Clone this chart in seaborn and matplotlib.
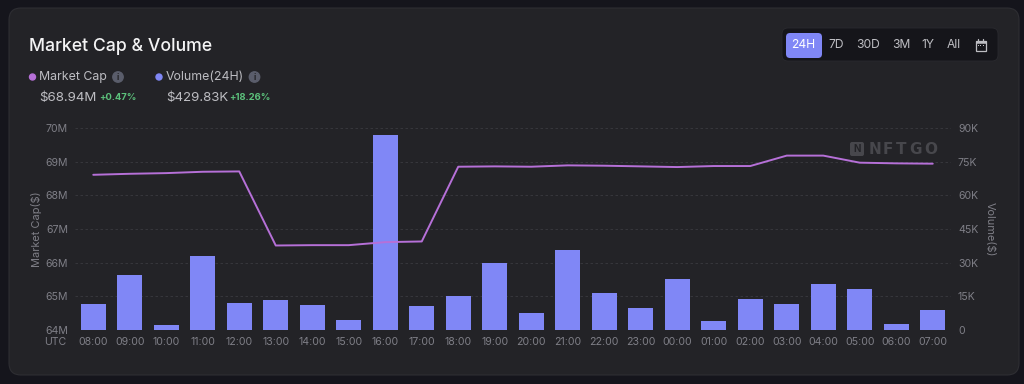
import matplotlib
matplotlib.use("Agg")
import matplotlib.pyplot as plt
from matplotlib.patches import FancyBboxPatch, Rectangle, Circle
import pandas as pd
import seaborn as sns

# Hourly data
hours = ["08:00", "09:00", "10:00", "11:00", "12:00", "13:00", "14:00", "15:00",
         "16:00", "17:00", "18:00", "19:00", "20:00", "21:00", "22:00", "23:00",
         "00:00", "01:00", "02:00", "03:00", "04:00", "05:00", "06:00", "07:00"]
market_cap = [68.61, 68.64, 68.66, 68.70, 68.71, 66.51, 66.52, 66.52,
              66.61, 66.63, 68.85, 68.86, 68.85, 68.89, 68.88, 68.86,
              68.84, 68.87, 68.87, 69.18, 69.18, 68.97, 68.95, 68.94]
volume = [11.6, 24.5, 2.2, 33.0, 12.0, 13.5, 11.0, 4.5,
          87.0, 10.7, 15.0, 30.0, 7.5, 35.6, 16.5, 9.8,
          22.7, 4.0, 13.8, 11.7, 20.5, 18.3, 2.7, 8.9]
cap_ticks = [64, 65, 66, 67, 68, 69, 70]
vol_ticks = [0, 15, 30, 45, 60, 75, 90]
ranges = ["24H", "7D", "30D", "3M", "1Y", "All"]
range_x = [803.5, 836, 868, 901, 928, 954]
mark_letters = ["N", "F", "T", "G", "O"]
mark_x = [875, 888, 901, 916, 931]

W, H = 1024, 384
OUTER = "#15151c"
CARD = "#232327"
BAR = "#8087f6"
LINE = "#b670d8"
MUTED = "#7f7f87"
GRID = "#3a3a40"
LIGHT = "#bdbdc2"
WATERMARK = "#47474c"

sns.set_theme(style="dark")
plt.rcParams["font.family"] = ["Inter", "DejaVu Sans"]

df = pd.DataFrame({"hour": hours, "cap": market_cap, "vol": volume})

fig = plt.figure(figsize=(W / 100, H / 100), dpi=100, facecolor=OUTER)

# Full figure layer in pixel coordinates for the card and header
bg = fig.add_axes([0, 0, 1, 1], zorder=0)
bg.set_xlim(0, W)
bg.set_ylim(H, 0)
bg.axis("off")
bg.add_patch(FancyBboxPatch((9, 8), 1010, 367, boxstyle="round,pad=0,rounding_size=12",
                            fc=CARD, ec="#2e2e33", lw=0.8))

bg.text(29, 46.5, "Market Cap & Volume", color="#f4f4f5", fontsize=12.7, fontweight="medium", va="center")

# Legend blocks
bg.add_patch(Circle((32.5, 77), 3, color=LINE))
bg.text(39, 77, "Market Cap", color=LIGHT, fontsize=8.9, va="center")
bg.add_patch(Circle((118, 77), 5.2, color="#5a5d6b"))
bg.text(118, 77, "i", color=CARD, fontsize=6, fontweight="bold", ha="center", va="center")
bg.text(39, 98, "$68.94M", color=LIGHT, fontsize=9.6, va="center")
bg.text(99.5, 98, "+0.47%", color="#5cc27c", fontsize=6.8, fontweight="bold", va="center")

bg.add_patch(Circle((159, 77), 3, color=BAR))
bg.text(165.5, 77, "Volume(24H)", color=LIGHT, fontsize=8.9, va="center")
bg.add_patch(Circle((254.5, 77), 5.2, color="#5a5d6b"))
bg.text(254.5, 77, "i", color=CARD, fontsize=6, fontweight="bold", ha="center", va="center")
bg.text(166, 98, "$429.83K", color=LIGHT, fontsize=9.6, va="center")
bg.text(229.5, 98, "+18.26%", color="#5cc27c", fontsize=6.8, fontweight="bold", va="center")

# Time range selector
bg.add_patch(FancyBboxPatch((782, 28), 216, 33, boxstyle="round,pad=0,rounding_size=6",
                            fc="#15151a", ec="#2a2a2f", lw=0.6))
bg.add_patch(FancyBboxPatch((786, 33), 36, 25, boxstyle="round,pad=0,rounding_size=4",
                            fc=BAR, ec="none"))
for label, x in zip(ranges, range_x):
    bg.text(x, 45.5, label, color="white" if label == "24H" else LIGHT, fontsize=8.7, ha="center", va="center")

# Calendar icon
bg.add_patch(Rectangle((975.5, 40.5), 10, 10, fc="none", ec=LIGHT, lw=0.9))
bg.add_patch(Rectangle((975.5, 40.5), 10, 2.5, fc=LIGHT, ec=LIGHT, lw=0.4))
for tab in (978, 983):
    bg.plot([tab, tab], [38.8, 41], color=LIGHT, lw=0.9)
for dot in (978, 980.5, 983):
    bg.add_patch(Rectangle((dot - 0.5, 44.5), 1, 1, fc=LIGHT, ec="none"))

# Watermark
bg.add_patch(FancyBboxPatch((850, 142), 14, 14, boxstyle="round,pad=0,rounding_size=2", fc=WATERMARK, ec="none"))
bg.text(857, 149, "N", color=CARD, fontsize=7, fontweight="bold", ha="center", va="center")
for letter, x in zip(mark_letters, mark_x):
    bg.text(x, 149, letter, color=WATERMARK, fontsize=11, family="DejaVu Sans", fontweight="bold", ha="center", va="center")

# Chart axes: left holds market cap, right holds volume
ax = fig.add_axes([75 / W, 1 - 330 / H, 876 / W, 202 / H], zorder=2)
ax.patch.set_alpha(0)
ax2 = ax.twinx()
ax2.patch.set_alpha(0)

sns.barplot(data=df, x="hour", y="vol", color=BAR, saturation=1, width=0.69,
            edgecolor="none", linewidth=0, ax=ax2, zorder=2)
sns.lineplot(data=df, x="hour", y="cap", color=LINE, linewidth=1.4, sort=False, ax=ax, zorder=5)
ax.set_zorder(ax2.get_zorder() + 1)

ax.set_xlim(-0.5, 23.5)
ax.set_ylim(64, 70)
ax2.set_ylim(0, 90)
ax.set_yticks(cap_ticks)
ax.set_yticklabels([f"{v}M" for v in cap_ticks])
ax2.set_yticks(vol_ticks)
ax2.set_yticklabels(["0" if v == 0 else f"{v}K" for v in vol_ticks])

# Grid sits on the bar axes so the dashes stay behind the bars
ax.grid(False)
ax2.grid(axis="y", color=GRID, linestyle=(0, (3, 3)), linewidth=0.6)
ax2.set_axisbelow(True)

for a in (ax, ax2):
    for s in a.spines.values():
        s.set_visible(False)
ax.tick_params(axis="x", length=0, pad=5, labelsize=7.6, labelcolor=MUTED)
ax.tick_params(axis="y", length=0, pad=5, labelsize=7.6, labelcolor=MUTED)
ax2.tick_params(axis="y", length=0, pad=5, labelsize=7.6, labelcolor=MUTED)
ax2.tick_params(axis="x", length=0, labelbottom=False)

ax.set_xlabel("")
ax.set_ylabel("")
ax2.set_xlabel("")
ax2.set_ylabel("")
bg.text(37, 229, "Market Cap($)", color=MUTED, fontsize=7.9, rotation=90, ha="center", va="center")
bg.text(990, 229, "Volume($)", color=MUTED, fontsize=7.9, rotation=-90, ha="center", va="center")
bg.text(55.5, 342, "UTC", color=MUTED, fontsize=7.6, ha="center", va="center")

fig.savefig("out.png", dpi=100, facecolor=OUTER)
